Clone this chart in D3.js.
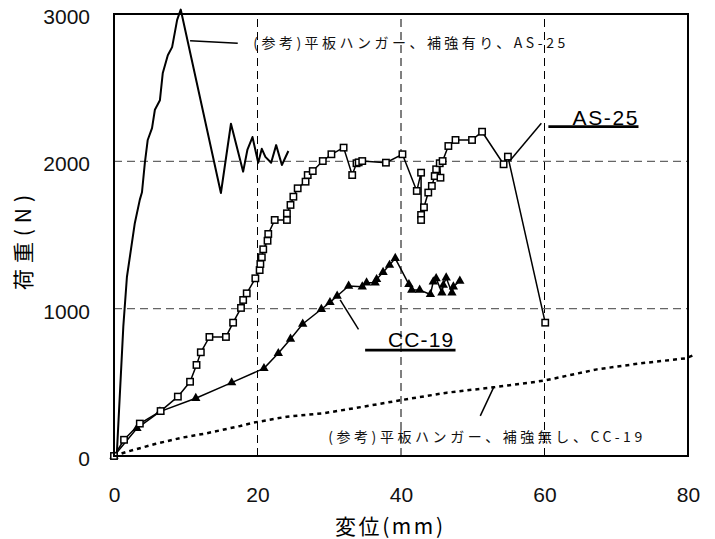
<!DOCTYPE html>
<html>
<head>
<meta charset="utf-8">
<script src="https://cdn.jsdelivr.net/npm/d3@7"></script>
<style>
  body { margin: 0; background: #fff; }
  svg { display: block; }
</style>
</head>
<body>
<svg width="715" height="539"></svg>
<script>
const width = 715, height = 539
const margin = { top: 14, right: 27, bottom: 83, left: 114 }

// 変位 (mm), 荷重 (N)
const xTicks = [0, 20, 40, 60, 80]
const yTicks = [0, 1000, 2000, 3000]

// (参考) 平板ハンガー、補強有り、AS-25  -- plain line
const refReinforced = [
    [0, 0], [0.4, 20], [1.3, 880], [1.8, 1215], [2.9, 1580], [3.6, 1740], [3.9, 1790],
    [4.3, 1990], [4.7, 2145], [5.3, 2225], [5.7, 2350], [6.4, 2415], [6.8, 2600],
    [7.5, 2720], [8.1, 2775], [8.5, 2880], [8.8, 2960], [9.3, 3030], [14.9, 1785],
    [16.3, 2255], [18.0, 1930], [18.6, 2080], [19.3, 2165], [20.1, 1990], [20.6, 2085],
    [21.1, 2030], [21.9, 1990], [22.6, 2110], [23.4, 1975], [24.3, 2070]
]

// AS-25 -- open squares
const as25 = [
    [0, 0], [1.4, 110], [3.6, 220], [6.5, 305], [8.9, 403], [10.6, 504], [11.5, 618],
    [12.1, 704], [13.3, 808], [15.6, 808], [16.6, 905], [17.7, 1005], [18.0, 1059],
    [18.5, 1104], [19.7, 1206], [20.3, 1262], [20.4, 1303], [20.6, 1349], [20.8, 1403],
    [21.4, 1461], [21.5, 1507], [22.4, 1602], [24.1, 1602], [24.1, 1647], [24.6, 1704],
    [25.0, 1760], [25.6, 1817], [26.7, 1862], [27.0, 1907], [27.7, 1934], [29.1, 2002],
    [30.3, 2048], [32.0, 2093], [33.2, 1907], [33.8, 1987], [34.1, 1993], [34.6, 2002],
    [37.9, 1991], [40.2, 2048], [42.2, 1799], [42.8, 1923], [42.8, 1636], [42.8, 1602],
    [43.2, 1688], [43.8, 1788], [44.3, 1833], [44.7, 1900], [44.9, 1946], [45.5, 1889],
    [45.4, 1987], [45.8, 2002], [46.6, 2104], [47.6, 2145], [49.9, 2145], [51.3, 2201],
    [54.3, 1980], [54.9, 2032], [60.1, 905]
]

// CC-19 -- filled triangles
const cc19 = [
    [0, 0], [3.2, 188], [6.4, 301], [11.4, 392], [16.4, 498], [20.9, 595], [22.9, 697],
    [24.6, 794], [26.3, 896], [28.9, 996], [30.1, 1043], [31.1, 1086], [32.7, 1154],
    [34.6, 1149], [35.2, 1176], [36.4, 1176], [36.6, 1199], [37.5, 1247], [38.4, 1296],
    [39.2, 1342], [41.1, 1165], [41.5, 1127], [42.6, 1127], [44.1, 1097], [44.5, 1183],
    [44.9, 1205], [45.7, 1108], [45.9, 1160], [46.3, 1210], [47.1, 1108], [47.3, 1149],
    [48.2, 1188]
]

// (参考) 平板ハンガー、補強無し、CC-19 -- dotted line
const refPlain = [
    [0, 0], [1.8, 29], [5.7, 81], [9.4, 124], [12.9, 154], [17.6, 204], [19.4, 226],
    [24.1, 267], [29.2, 290], [34.8, 335], [40.1, 380], [46.4, 430], [52.9, 466],
    [59.9, 511], [67.3, 588], [73.4, 629], [79.7, 663], [80.8, 686]
]

const svg = d3.select('svg')

const x = d3.scaleLinear().domain([0, 80]).range([margin.left, width - margin.right])
const y = d3.scaleLinear().domain([0, 3000]).range([height - margin.bottom, margin.top])

const numFont = '"Liberation Sans", Arial, sans-serif'
const jpFont = '"Noto Sans CJK JP", "Noto Sans", sans-serif'

// grid
svg.append('g')
    .selectAll('line')
    .data([20, 40, 60])
    .join('line')
    .attr('x1', d => x(d)).attr('x2', d => x(d))
    .attr('y1', y(0)).attr('y2', y(3000))
    .attr('stroke', '#000')
    .attr('stroke-width', 1)
    .attr('stroke-dasharray', '8,5')

svg.append('g')
    .selectAll('line')
    .data([1000, 2000])
    .join('line')
    .attr('x1', x(0)).attr('x2', x(80))
    .attr('y1', d => y(d)).attr('y2', d => y(d))
    .attr('stroke', '#666')
    .attr('stroke-width', 1.3)
    .attr('stroke-dasharray', '8,5')

// axes (labels only, no tick marks)
const xAxis = svg.append('g')
    .attr('transform', `translate(0,${y(0)})`)
    .call(d3.axisBottom(x).tickValues(xTicks).tickSize(0).tickPadding(31).tickFormat(d3.format('d')))
xAxis.select('.domain').remove()
xAxis.selectAll('text')
    .style('font-family', numFont)
    .style('font-size', '21px')
    .attr('fill', '#111')

const yAxis = svg.append('g')
    .attr('transform', `translate(${x(0)},0)`)
    .call(d3.axisLeft(y).tickValues(yTicks).tickSize(0).tickPadding(24).tickFormat(d3.format('d')))
yAxis.select('.domain').remove()
yAxis.selectAll('text')
    .style('font-family', numFont)
    .style('font-size', '21px')
    .attr('dy', '0.45em')
    .attr('fill', '#111')

// axis titles
svg.append('text')
    .attr('x', 335)
    .attr('y', 534)
    .attr('textLength', 108).attr('lengthAdjust', 'spacing')
    .style('font-family', jpFont)
    .style('font-size', '21px')
    .text('変位(mm)')

svg.append('text')
    .attr('transform', 'translate(31,290) rotate(-90)')
    .attr('textLength', 95).attr('lengthAdjust', 'spacing')
    .style('font-family', jpFont)
    .style('font-size', '21px')
    .text('荷重(N)')

// series
const line = d3.line().x(d => x(d[0])).y(d => y(d[1]))

svg.append('path')
    .datum(refPlain)
    .attr('d', line)
    .attr('fill', 'none')
    .attr('stroke', '#000')
    .attr('stroke-width', 2.5)
    .attr('stroke-dasharray', '4,4')

svg.append('path')
    .datum(refReinforced)
    .attr('d', line)
    .attr('fill', 'none')
    .attr('stroke', '#000')
    .attr('stroke-width', 2)
    .attr('stroke-linejoin', 'round')

svg.append('path')
    .datum(cc19)
    .attr('d', line)
    .attr('fill', 'none')
    .attr('stroke', '#000')
    .attr('stroke-width', 1.5)

svg.append('g')
    .selectAll('path')
    .data(cc19)
    .join('path')
    .attr('d', d3.symbol(d3.symbolTriangle, 38))
    .attr('transform', d => `translate(${x(d[0])},${y(d[1])})`)
    .attr('fill', '#000')

svg.append('path')
    .datum(as25)
    .attr('d', line)
    .attr('fill', 'none')
    .attr('stroke', '#000')
    .attr('stroke-width', 1.5)

svg.append('g')
    .selectAll('rect')
    .data(as25)
    .join('rect')
    .attr('x', d => x(d[0]) - 3.2)
    .attr('y', d => y(d[1]) - 3.2)
    .attr('width', 6.4)
    .attr('height', 6.4)
    .attr('fill', '#fff')
    .attr('stroke', '#000')
    .attr('stroke-width', 1.5)

// frame
svg.append('rect')
    .attr('x', x(0)).attr('y', y(3000))
    .attr('width', x(80) - x(0)).attr('height', y(0) - y(3000))
    .attr('fill', 'none')
    .attr('stroke', '#000')
    .attr('stroke-width', 2)

// annotations: leader lines
const leaders = [
    [[10.6, 2819], [17.25, 2801]],
    [[59.56, 2258], [55.14, 2002]],
    [[34.08, 860], [31.52, 1059]],
    [[51.05, 272], [52.91, 466]]
]
svg.append('g')
    .selectAll('path')
    .data(leaders)
    .join('path')
    .attr('d', line)
    .attr('stroke', '#000')
    .attr('stroke-width', 1.5)

// underlines under the series labels
const underlines = [
    [[60.54, 2235], [73.1, 2235]],
    [[35.0, 719], [47.6, 719]]
]
svg.append('g')
    .selectAll('path')
    .data(underlines)
    .join('path')
    .attr('d', line)
    .attr('stroke', '#000')
    .attr('stroke-width', 2.7)

svg.append('text')
    .attr('x', x(19.4)).attr('y', y(2769))
    .attr('textLength', 312).attr('lengthAdjust', 'spacing')
    .style('font-family', jpFont).style('font-size', '14px')
    .attr('fill', '#111')
    .text('(参考)平板ハンガー、補強有り、AS-25')

svg.append('text')
    .attr('x', x(29.85)).attr('y', y(95))
    .attr('textLength', 314).attr('lengthAdjust', 'spacing')
    .style('font-family', jpFont).style('font-size', '14px')
    .attr('fill', '#111')
    .text('(参考)平板ハンガー、補強無し、CC-19')

svg.append('text')
    .attr('x', x(63.9)).attr('y', y(2247))
    .attr('textLength', 65).attr('lengthAdjust', 'spacing')
    .style('font-family', numFont).style('font-size', '21px')
    .text('AS-25')

svg.append('text')
    .attr('x', x(38.2)).attr('y', y(740))
    .attr('textLength', 65).attr('lengthAdjust', 'spacing')
    .style('font-family', numFont).style('font-size', '21px')
    .text('CC-19')
</script>
</body>
</html>
